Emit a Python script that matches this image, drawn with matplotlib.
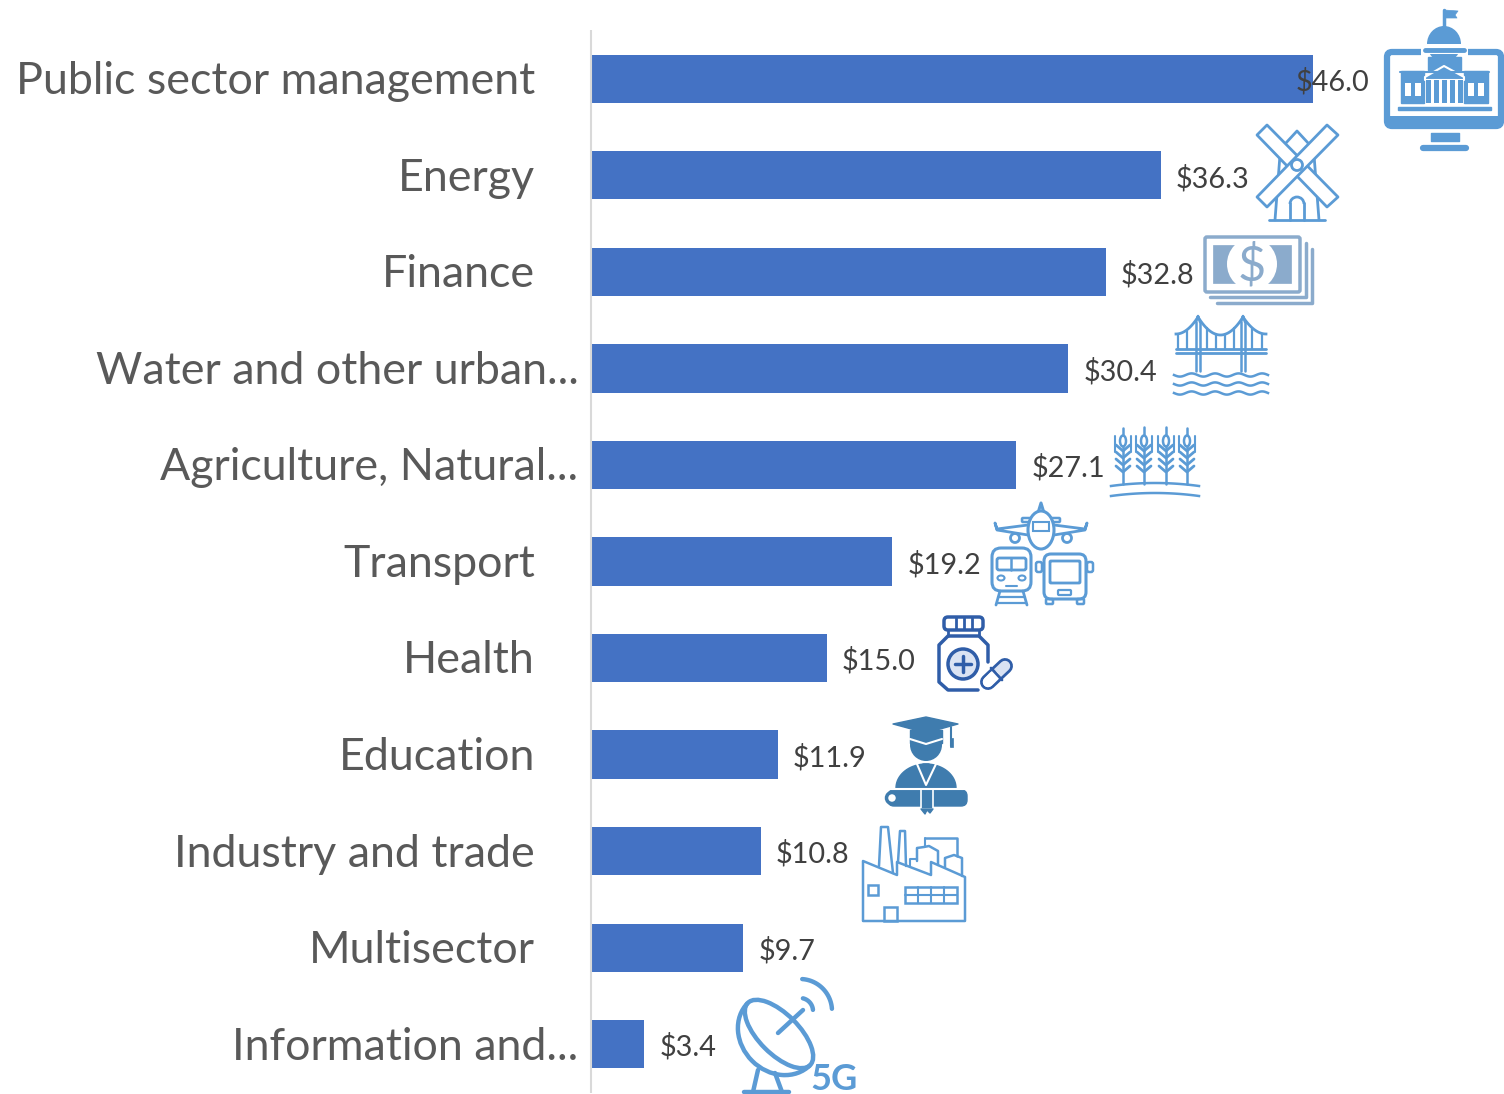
import matplotlib
matplotlib.use('Agg')
import matplotlib.pyplot as plt
import numpy as np
from matplotlib.patches import Circle, Ellipse, FancyBboxPatch, Polygon, Rectangle, Arc
from matplotlib.transforms import ScaledTranslation

# --- data ---
sectors = [
    "Public sector management", "Energy", "Finance", "Water and other urban...",
    "Agriculture, Natural...", "Transport", "Health", "Education",
    "Industry and trade", "Multisector", "Information and...",
]
amounts = [46.0, 36.3, 32.8, 30.4, 27.1, 19.2, 15.0, 11.9, 10.8, 9.7, 3.4]
value_labels = ["$46.0", "$36.3", "$32.8", "$30.4", "$27.1", "$19.2", "$15.0",
                "$11.9", "$10.8", "$9.7", "$3.4"]

plt.rcParams['font.family'] = ['Lato', 'DejaVu Sans']

W, H = 1504, 1094
fig = plt.figure(figsize=(W / 100, H / 100), dpi=100)
ax = fig.add_axes([591 / W, 1 - 1092.5 / H, 913 / W, 1062 / H])

y = np.arange(len(sectors))
ax.barh(y, amounts, height=0.5, color='#4472C4')
ax.set_xlim(0, 913 / 15.7)
ax.set_ylim(10.5, -0.5)
ax.set_yticks(y)
ax.set_yticklabels(sectors, fontsize=32.2, color='#595959')
ax.tick_params(axis='y', length=0)
ax.set_xticks([])
for s in ['top', 'right', 'bottom']:
    ax.spines[s].set_visible(False)
ax.spines['left'].set_color('#D9D9D9')
ax.spines['left'].set_linewidth(1.5)
ax.spines['left'].set_capstyle('butt')
ax.patch.set_alpha(0)

# labels cut off by excel sit closer to the axis
for tick, name in zip(ax.yaxis.get_major_ticks(), sectors):
    tick.set_pad(9 if name.endswith('...') else 40.3)
up = ScaledTranslation(0, 0.8 / 72, fig.dpi_scale_trans)
for lab in ax.get_yticklabels():
    lab.set_transform(lab.get_transform() + up)

for i, (v, lab) in enumerate(zip(amounts, value_labels)):
    off = -18 if i == 0 else 15
    ax.annotate(lab, (v, i), xytext=(off, -3), textcoords='offset pixels',
                va='center', ha='left', fontsize=20.8, color='#404040')

# --- icons, drawn in figure pixels ---
ic = fig.add_axes([0, 0, 1, 1])
ic.set_xlim(0, W)
ic.set_ylim(H, 0)
ic.axis('off')
ic.patch.set_alpha(0)

BLUE = '#5B9BD5'
tt = np.linspace(0, 1, 30)


def line(pts, c=BLUE, lw=2.0, closed=False, fill=None, z=None):
    pts = list(pts)
    if fill is not None or closed:
        p = Polygon(pts, closed=True, fc=fill if fill else 'none', ec=c, lw=lw, joinstyle='round')
        if z:
            p.set_zorder(z)
        ic.add_patch(p)
    else:
        xs, ys = zip(*pts)
        ic.plot(xs, ys, color=c, lw=lw, solid_capstyle='round', solid_joinstyle='round')


def box(x0, y0, x1, y1, c=BLUE, lw=2.0, fill='none', r=0):
    if r:
        ic.add_patch(FancyBboxPatch((x0 + r, y0 + r), x1 - x0 - 2 * r, y1 - y0 - 2 * r,
                                    boxstyle=f'round,pad={r}', fc=fill, ec=c, lw=lw))
    else:
        ic.add_patch(Rectangle((x0, y0), x1 - x0, y1 - y0, fc=fill, ec=c, lw=lw))


def arc(cx, cy, r, a0, a1, lw=3.2):
    a = np.deg2rad(np.linspace(a0, a1, 40))
    ic.plot(cx + r * np.cos(a), cy + r * np.sin(a), color=BLUE, lw=lw, solid_capstyle='round')


# government building on a monitor
box(1387, 52, 1501, 126, lw=4.5, r=5)
box(1386, 116, 1502, 127, lw=0, fill=BLUE)
ic.add_patch(Rectangle((1421, 44), 47, 14, fc='white', ec='none'))
line([(1431, 133), (1459, 133), (1459, 141), (1431, 141)], fill=BLUE, lw=1)
line([(1423, 148), (1466, 148)], lw=4.5)
line([(1444, 30), (1444, 10)], lw=2.5)
line([(1444, 10), (1458, 11), (1455, 15), (1457, 18), (1444, 18)], fill=BLUE, lw=0.5)
ic.add_patch(Ellipse((1444, 44), 34, 36, fc=BLUE, ec='none'))
ic.add_patch(Rectangle((1424, 44), 40, 10, fc='white', ec='none'))
line([(1425, 50), (1464, 50)], lw=3.5)
box(1428, 57, 1461, 70, lw=1, fill=BLUE)
box(1401, 71, 1424, 103, lw=1, fill=BLUE)
box(1464, 71, 1488, 103, lw=1, fill=BLUE)
line([(1400, 72), (1489, 72)], lw=1.5)
line([(1425, 77), (1444, 66), (1464, 77), (1464, 80), (1425, 80)], fill=BLUE, c='white', lw=1.5)
for x in [1428, 1436, 1444, 1452, 1460]:
    box(x - 2.5, 80, x + 2.5, 103, lw=0, fill=BLUE)
for x in [1408, 1418, 1471, 1481]:
    box(x - 3, 83, x + 3, 96, lw=0, fill='white')
box(1398, 107, 1491, 110, lw=1, fill=BLUE)

# windmill, sails cover the tower
line([(1285, 144), (1297, 131), (1309, 144)])
line([(1280, 155), (1275, 220)])
line([(1314, 155), (1319, 220)])
line([(1269, 220), (1325, 220)])
line([(1290, 220), (1290, 203)])
line([(1304, 220), (1304, 203)])
ic.add_patch(Arc((1297, 204), 14, 14, theta1=180, theta2=360, ec=BLUE, lw=2))
line([(1257, 135), (1267, 125), (1338, 197), (1327, 207)], fill='white', z=3)
line([(1338, 135), (1327, 125), (1257, 197), (1267, 207)], fill='white', z=3)
line([(1267, 125), (1338, 197)], c=BLUE, lw=0.01)
ic.add_patch(Circle((1297, 165), 5.5, fc='white', ec=BLUE, lw=2, zorder=4))

# money stack
MONEY = '#8BABCC'
box(1213, 245, 1291, 283, c=MONEY, lw=0.5, fill=MONEY)
ic.add_patch(Ellipse((1252, 264), 50, 52, fc='white', ec='none'))
box(1205, 237, 1300, 292, c=MONEY, lw=2.5, r=2)
ic.text(1252, 266, '$', color=MONEY, fontsize=35, ha='center', va='center')
line([(1210, 297), (1306, 297), (1306, 243)], c=MONEY, lw=2.5)
line([(1217, 303), (1312, 303), (1312, 249)], c=MONEY, lw=2.5)

# bridge
for x in [1198, 1243]:
    line([(x - 2, 371), (x - 2, 322)], lw=1.8)
    line([(x + 2, 371), (x + 2, 322)], lw=1.8)
    line([(x - 2, 322), (x, 316), (x + 2, 322)], lw=1.8)
line([(1176, 349), (1266, 349)], lw=2)
line([(1176, 353), (1266, 353)], lw=2)
ic.plot(1198 + 45 * tt, 317 + 18 * 4 * tt * (1 - tt), color=BLUE, lw=2)
ic.plot(1176 + 22 * tt, 334 - 17 * tt ** 2, color=BLUE, lw=2)
ic.plot(1243 + 23 * tt, 317 + 17 * (1 - (1 - tt) ** 2), color=BLUE, lw=2)
for x, top in [(1178, 334), (1187, 331), (1207, 328), (1216, 334), (1225, 334), (1234, 328), (1252, 329), (1262, 334)]:
    line([(x, top), (x, 349)], lw=1.6)
for yy in [375, 384, 393]:
    xs = np.linspace(1174, 1268, 80)
    ic.plot(xs, yy + 1.6 * np.sin((xs - 1174) / 94 * 4 * 2 * np.pi), color=BLUE, lw=1.8)

# wheat
for x, top in [(1123, 428), (1144, 427), (1166, 427), (1187, 428)]:
    line([(x, top), (x, 484)], lw=1.8)
    ic.add_patch(Ellipse((x, 441), 6, 11, fc='white', ec=BLUE, lw=1.8, zorder=3))
    for k in range(4):
        yy = 445 + k * 7
        line([(x - 7, yy), (x, yy + 6), (x + 7, yy)], lw=2)
    line([(x - 8, 436), (x - 8, 452)], lw=1.5)
    line([(x + 8, 436), (x + 8, 452)], lw=1.5)
ic.plot(1111 + 88 * tt, 486 - 3 * 4 * tt * (1 - tt), color=BLUE, lw=1.8)
ic.plot(1111 + 88 * tt, 496 - 3 * 4 * tt * (1 - tt), color=BLUE, lw=1.8)

# plane, train, bus
ic.add_patch(Ellipse((1041, 530), 26, 38, fc='white', ec=BLUE, lw=2.2, zorder=3))
line([(1038, 513), (1041, 503), (1044, 513)], lw=2.2)
line([(1028, 525), (997, 529), (995, 523), (997, 530), (1028, 535)], lw=2)
line([(1054, 525), (1085, 529), (1087, 523), (1085, 530), (1054, 535)], lw=2)
box(1022, 518, 1060, 522, lw=1.8, r=1)
ic.add_patch(Circle((1015, 538), 4.5, fc='white', ec=BLUE, lw=2))
ic.add_patch(Circle((1067, 538), 4.5, fc='white', ec=BLUE, lw=2))
box(1033, 522, 1049, 531, lw=1.5, fill='white')
ic.patches[-1].set_zorder(4)
box(992, 548, 1031, 591, lw=2.2, r=9)
box(997, 558, 1026, 570, lw=2, r=2)
line([(1011, 558), (1011, 570)], lw=1.8)
line([(1006, 586), (1017, 586)], lw=1.5)
ic.add_patch(Ellipse((1001, 578), 7, 5, fc='none', ec=BLUE, lw=1.5))
ic.add_patch(Ellipse((1022, 578), 7, 5, fc='none', ec=BLUE, lw=1.5))
line([(1000, 591), (996, 605)], lw=2)
line([(1023, 591), (1027, 605)], lw=2)
line([(998, 597), (1025, 597)], lw=1.6)
line([(997, 603), (1026, 603)], lw=1.6)
box(1044, 554, 1086, 599, lw=2.2, r=7)
box(1050, 561, 1080, 583, lw=2, r=1)
box(1036, 562, 1042, 572, lw=1.8, r=2)
box(1087, 562, 1093, 572, lw=1.8, r=2)
box(1058, 590, 1071, 595, lw=1.6, r=1)
box(1046, 599, 1053, 604, lw=1.8, r=1)
box(1077, 599, 1084, 604, lw=1.8, r=1)

# medicine
HB = '#2F5DA8'
box(944, 617, 983, 630, c=HB, lw=2.5, r=4)
for x in [956, 964, 972]:
    line([(x, 618), (x, 629)], c=HB, lw=2)
line([(948, 631), (948, 636)], c=HB, lw=2)
line([(979, 631), (979, 636)], c=HB, lw=2)
line([(988, 662), (988, 645), (979, 636), (948, 636), (939, 645), (939, 682), (948, 690), (978, 690)], c=HB, lw=2.5)
ic.add_patch(Circle((963, 664), 15, fc='#DAE3F3', ec=HB, lw=2.5))
line([(955, 664), (971, 664)], c=HB, lw=2.5)
line([(963, 656), (963, 672)], c=HB, lw=2.5)
ic.plot([988, 1005], [682, 666], color=HB, lw=11.5, solid_capstyle='round')
ic.plot([988, 1005], [682, 666], color='#DAE3F3', lw=7.5, solid_capstyle='round')
ic.plot([988, 994], [682, 676], color='white', lw=7.5, solid_capstyle='round')
line([(991, 668), (1002, 680)], c=HB, lw=2)

# graduate
GR = '#3F7CAE'
line([(893, 724), (926, 717), (958, 724), (926, 733)], c=GR, fill=GR, lw=1)
ic.add_patch(Ellipse((926, 745), 32, 32, fc=GR, ec='none'))
line([(910, 730), (910, 743), (942, 743), (942, 730)], c=GR, fill=GR, lw=1)
line([(910, 739), (926, 744), (942, 739)], c='white', lw=1.5)
line([(951, 727), (951, 746)], c=GR, lw=1.5)
box(949.5, 738, 952.5, 747, c=GR, lw=0.5, fill=GR)
ang = np.linspace(np.pi, 2 * np.pi, 40)
line(list(zip(926 + 30 * np.cos(ang), 788 + 24 * np.sin(ang))), c=GR, fill=GR, lw=1)
line([(917, 764), (926, 785), (936, 764)], c='white', lw=1.5)
line([(923, 764), (929, 764), (931, 778), (926, 785), (921, 778)], c=GR, fill=GR, lw=1)
box(888, 790, 967, 806, c=GR, lw=1, fill=GR, r=6)
ic.add_patch(Circle((892, 798), 5.5, fc='white', ec=GR, lw=2.5))
line([(888, 789), (966, 789)], c='white', lw=1.5)
box(921, 789, 933, 809, c='white', lw=1.2, fill=GR)
line([(921, 809), (925, 814), (927, 810), (930, 813), (933, 809)], c=GR, fill=GR, lw=1)

# factory
line([(863, 861), (863, 921), (965, 921), (965, 877), (931, 862), (931, 875), (897, 862), (897, 875)], lw=1.8, closed=True)
line([(879, 866), (881, 827), (888, 827), (893, 873)], lw=1.8)
line([(898, 862), (900, 831), (905, 831), (906, 866)], lw=1.8)
box(868, 885, 878, 895, lw=1.8)
box(905, 887, 957, 903, lw=1.8)
line([(905, 895), (957, 895)], lw=1.5)
for x in [918, 931, 944]:
    line([(x, 887), (x, 903)], lw=1.5)
box(884, 907, 897, 921, lw=1.8)
line([(925, 838), (957, 838), (957, 856)], lw=1.8)
line([(925, 838), (925, 846)], lw=1.5)
line([(917, 861), (917, 848), (924, 847), (929, 846), (938, 851), (938, 865)], lw=1.8)
line([(945, 867), (945, 858), (954, 855), (962, 858), (962, 876)], lw=1.8)
line([(910, 866), (910, 859), (917, 859)], lw=1.5)

# satellite dish
ic.add_patch(Ellipse((779, 1034), 88, 40, angle=45, fc='none', ec=BLUE, lw=3.2))
ic.add_patch(Arc((779, 1034), 88, 76, angle=45, theta1=0, theta2=180, ec=BLUE, lw=3.2))
line([(778, 1033), (803, 1010)], lw=3.2)
arc(800, 1011, 13, -77, -5)
arc(800, 1011, 32, -86, -4)
line([(758, 1070), (753, 1092)], lw=3.2)
line([(775, 1073), (782, 1092)], lw=3.2)
line([(744, 1092), (789, 1092)], lw=3.2)
ic.text(834, 1080, '5G', color=BLUE, fontsize=26, fontweight='bold', ha='center', va='center')

fig.savefig('out.png', dpi=100)
